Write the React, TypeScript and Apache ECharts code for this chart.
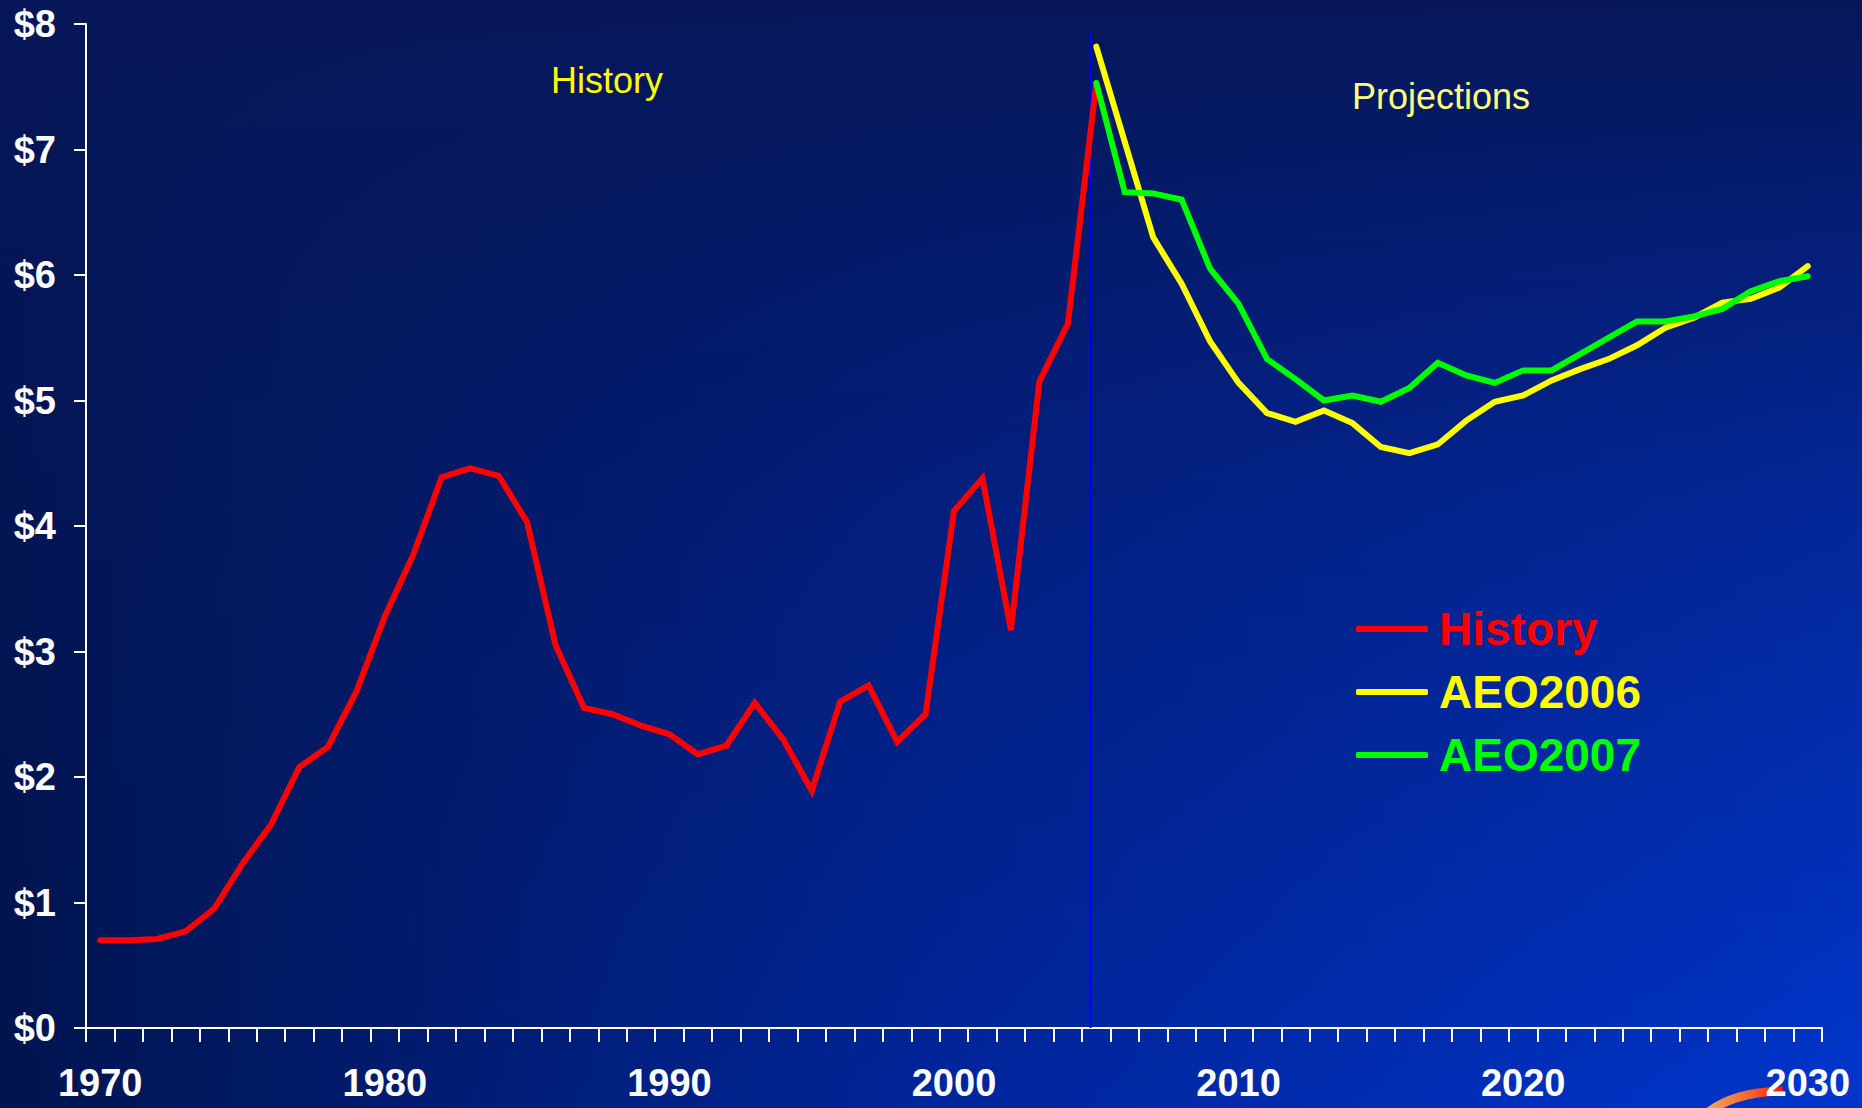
import React, { useEffect, useRef } from "react";
import * as echarts from "echarts";

const YEARS = [
  "1970", "1971", "1972", "1973", "1974", "1975", "1976", "1977", "1978", "1979",
  "1980", "1981", "1982", "1983", "1984", "1985", "1986", "1987", "1988", "1989",
  "1990", "1991", "1992", "1993", "1994", "1995", "1996", "1997", "1998", "1999",
  "2000", "2001", "2002", "2003", "2004", "2005", "2006", "2007", "2008", "2009",
  "2010", "2011", "2012", "2013", "2014", "2015", "2016", "2017", "2018", "2019",
  "2020", "2021", "2022", "2023", "2024", "2025", "2026", "2027", "2028", "2029",
  "2030",
];

// History, 1970-2005
const HISTORY = [
  0.70, 0.70, 0.71, 0.77, 0.95, 1.31, 1.62, 2.08, 2.24, 2.68,
  3.28, 3.77, 4.39, 4.46, 4.40, 4.03, 3.05, 2.55, 2.50, 2.41,
  2.34, 2.18, 2.25, 2.59, 2.30, 1.89, 2.60, 2.73, 2.28, 2.50,
  4.12, 4.38, 3.17, 5.15, 5.61, 7.53,
];

// Projections, 2005-2030
const PROJECTION_START = "2005";
const AEO2006 = [
  7.82, 7.06, 6.30, 5.93, 5.47, 5.14, 4.90, 4.83, 4.92, 4.82,
  4.63, 4.58, 4.65, 4.84, 4.99, 5.04, 5.16, 5.25, 5.33, 5.44,
  5.58, 5.66, 5.78, 5.81, 5.90, 6.07,
];
const AEO2007 = [
  7.53, 6.66, 6.65, 6.60, 6.05, 5.77, 5.33, 5.17, 5.00, 5.04,
  4.99, 5.10, 5.30, 5.20, 5.14, 5.24, 5.24, 5.37, 5.50, 5.63,
  5.63, 5.67, 5.73, 5.87, 5.95, 5.99,
];

// Divider between history and projections
const DIVIDER_YEAR = 2004.8;
const DIVIDER_TOP = 7.93;

const Y_MIN = 0;
const Y_MAX = 8;
const Y_INTERVAL = 1;

const SERIES_NAMES = ["History", "AEO2006", "AEO2007"];
const SERIES_COLORS = ["#ff0000", "#ffff00", "#00ff00"];

export default function App() {
  const ref = useRef<HTMLDivElement>(null);

  useEffect(() => {
    if (!ref.current) return;
    const chart = echarts.init(ref.current, null, { renderer: "svg" });
    const font = "'Liberation Sans', Arial, Helvetica, sans-serif";

    const startIdx = YEARS.indexOf(PROJECTION_START);
    const hist = YEARS.map((_, i) => (i < HISTORY.length ? HISTORY[i] : null));
    const pad = (arr: number[]) =>
      YEARS.map((_, i) =>
        i >= startIdx && i - startIdx < arr.length ? arr[i - startIdx] : null
      );
    const a06 = pad(AEO2006);
    const a07 = pad(AEO2007);

    const lineSeries = (name: string, data: (number | null)[], color: string) => ({
      name,
      type: "line",
      data,
      symbol: "none",
      showSymbol: false,
      connectNulls: false,
      color,
      itemStyle: { color },
      lineStyle: { color, width: 6, cap: "round", join: "miter" },
      z: 3,
    });

    chart.setOption({
      animation: false,
      backgroundColor: "#00154f",
      graphic: [
        {
          type: "rect",
          z: -20,
          silent: true,
          shape: { x: 0, y: 0, width: 1862, height: 1108 },
          style: {
            fill: new echarts.graphic.LinearGradient(0, 0, 1, 0, [
              { offset: 0, color: "#00144e" },
              { offset: 0.5, color: "#00259a" },
              { offset: 1, color: "#0035cc" },
            ]),
          },
        },
        {
          type: "rect",
          z: -19,
          silent: true,
          shape: { x: 0, y: 0, width: 1862, height: 1108 },
          style: {
            fill: new echarts.graphic.LinearGradient(0, 0, 0, 1, [
              { offset: 0, color: "rgba(6,22,88,1)" },
              { offset: 0.45, color: "rgba(6,22,88,0.45)" },
              { offset: 1, color: "rgba(6,22,88,0)" },
            ]),
          },
        },
        {
          type: "bezierCurve",
          z: -1,
          silent: true,
          shape: { x1: 1706, y1: 1114, cpx1: 1733, cpy1: 1092, x2: 1783, y2: 1091 },
          style: {
            fill: "none",
            lineWidth: 9,
            stroke: new echarts.graphic.LinearGradient(
              1706, 0, 1783, 0,
              [
                { offset: 0, color: "#f2a85a" },
                { offset: 0.6, color: "#f4622e" },
                { offset: 1, color: "#ff1500" },
              ],
              true
            ),
          },
        },
        {
          type: "text",
          z: 5,
          style: {
            text: "History",
            x: 607,
            y: 80,
            fill: "#ffff00",
            fontSize: 36,
            fontFamily: font,
            textAlign: "center",
            textVerticalAlign: "middle",
          },
        },
        {
          type: "text",
          z: 5,
          style: {
            text: "Projections",
            x: 1441,
            y: 96,
            fill: "#ffff80",
            fontSize: 36,
            fontFamily: font,
            textAlign: "center",
            textVerticalAlign: "middle",
          },
        },
      ],
      legend: {
        orient: "vertical",
        left: 1356,
        top: 601,
        padding: 0,
        icon: "roundRect",
        itemWidth: 72,
        itemHeight: 6,
        itemGap: 7,
        selectedMode: false,
        textStyle: {
          fontSize: 46,
          fontWeight: "bold",
          fontFamily: font,
          lineHeight: 56,
          padding: [0, 0, 0, 6],
        },
        data: SERIES_NAMES.map((n, i) => ({
          name: n,
          icon: "roundRect",
          itemStyle: { color: SERIES_COLORS[i] },
          textStyle: { color: SERIES_COLORS[i] },
        })),
      },
      grid: { left: 86, top: 24, width: 1736, height: 1004, containLabel: false },
      xAxis: [
        {
          type: "category",
          data: YEARS,
          boundaryGap: true,
          axisLine: { show: true, lineStyle: { color: "#ffffff", width: 2 } },
          axisTick: {
            show: true,
            interval: 0,
            length: 14,
            inside: false,
            lineStyle: { color: "#ffffff", width: 2 },
          },
          axisLabel: {
            interval: 9,
            color: "#ffffff",
            fontSize: 38,
            fontWeight: "bold",
            fontFamily: font,
            margin: 36,
          },
          splitLine: { show: false },
        },
        {
          type: "value",
          min: 1969.5,
          max: 2030.5,
          show: false,
          splitLine: { show: false },
        },
      ],
      yAxis: {
        type: "value",
        min: Y_MIN,
        max: Y_MAX,
        interval: Y_INTERVAL,
        axisLine: { show: true, lineStyle: { color: "#ffffff", width: 2 } },
        axisTick: {
          show: true,
          length: 12,
          inside: false,
          lineStyle: { color: "#ffffff", width: 2 },
        },
        axisLabel: {
          color: "#ffffff",
          fontSize: 38,
          fontWeight: "bold",
          fontFamily: font,
          margin: 30,
          formatter: (v: number) => "$" + v,
        },
        splitLine: { show: false },
      },
      series: [
        {
          name: "divider",
          type: "line",
          xAxisIndex: 1,
          data: [
            [DIVIDER_YEAR, Y_MIN],
            [DIVIDER_YEAR, DIVIDER_TOP],
          ],
          symbol: "none",
          lineStyle: { color: "#0000ff", width: 2 },
          z: 2,
          silent: true,
        },
        lineSeries(SERIES_NAMES[0], hist, SERIES_COLORS[0]),
        lineSeries(SERIES_NAMES[1], a06, SERIES_COLORS[1]),
        lineSeries(SERIES_NAMES[2], a07, SERIES_COLORS[2]),
      ],
    });

    return () => {
      chart.dispose();
    };
  }, []);

  return (
    <div
      ref={ref}
      style={{
        position: "fixed",
        left: 0,
        top: 0,
        width: "1862px",
        height: "1108px",
      }}
    />
  );
}
